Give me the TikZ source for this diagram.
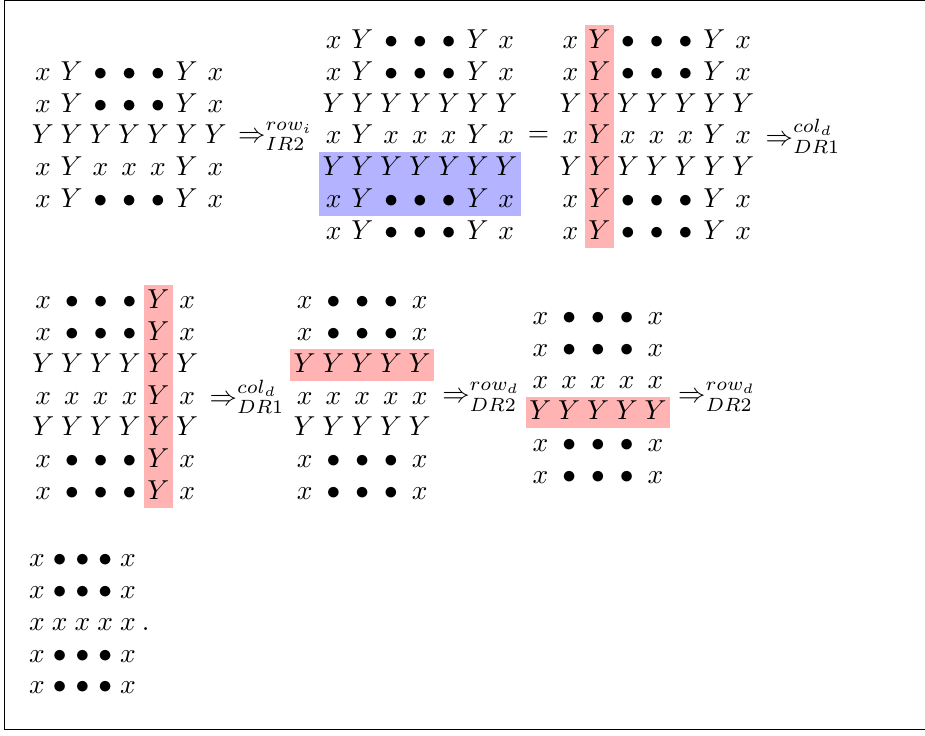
\documentclass[tikz,border=0pt]{standalone}
\usepackage{amsmath,amssymb}
\usepackage{xcolor}
\usepackage{tikz}
\usetikzlibrary{matrix, positioning, calc}
\definecolor{hlred}{RGB}{255,179,179}
\definecolor{hlblue}{RGB}{179,179,255}

\tikzset{
  cell/.style={minimum width=10.5pt, minimum height=11.6pt, inner sep=0pt,
               text height=1.5ex, text depth=.25ex},
  narrowcell/.style={cell, minimum width=8.3pt},
  grid/.style={matrix of math nodes, inner sep=0pt, row sep=0pt,
               column sep=0pt, nodes={cell}},
  redcell/.style={fill=hlred},
  bluecell/.style={fill=hlblue},
  arrowlbl/.style={inner sep=0pt},
}

\begin{document}
\begin{tikzpicture}[x=0.365pt, y=-0.365pt]
\useasboundingbox (0,0) rectangle (925,735);
\clip (0,0) rectangle (925,735);
\draw (4.7,0.6) rectangle (940,729.4);

% first line
\matrix (mA) [grid] at (129.2,136.4) {
x & Y & \bullet & \bullet & \bullet & Y & x \\
x & Y & \bullet & \bullet & \bullet & Y & x \\
Y & Y & Y & Y & Y & Y & Y \\
x & Y & x & x & x & Y & x \\
x & Y & \bullet & \bullet & \bullet & Y & x \\
};
\node[arrowlbl, right=2.6pt of mA] (a1) {$\Rightarrow^{row_i}_{IR2}$};

\matrix (mB) [grid] at (420,136.4) {
x & Y & \bullet & \bullet & \bullet & Y & x \\
x & Y & \bullet & \bullet & \bullet & Y & x \\
Y & Y & Y & Y & Y & Y & Y \\
x & Y & x & x & x & Y & x \\
|[bluecell]| Y & |[bluecell]| Y & |[bluecell]| Y & |[bluecell]| Y
  & |[bluecell]| Y & |[bluecell]| Y & |[bluecell]| Y \\
|[bluecell]| x & |[bluecell]| Y & |[bluecell]| \bullet & |[bluecell]| \bullet
  & |[bluecell]| \bullet & |[bluecell]| Y & |[bluecell]| x \\
x & Y & \bullet & \bullet & \bullet & Y & x \\
};

\matrix (mC) [grid] at (656.8,136.4) {
x & |[redcell]| Y & \bullet & \bullet & \bullet & Y & x \\
x & |[redcell]| Y & \bullet & \bullet & \bullet & Y & x \\
Y & |[redcell]| Y & Y & Y & Y & Y & Y \\
x & |[redcell]| Y & x & x & x & Y & x \\
Y & |[redcell]| Y & Y & Y & Y & Y & Y \\
x & |[redcell]| Y & \bullet & \bullet & \bullet & Y & x \\
x & |[redcell]| Y & \bullet & \bullet & \bullet & Y & x \\
};
\node (eq) at ($(mB.east)!0.5!(mC.west)$) {$=$};
\node[arrowlbl, right=2.6pt of mC] (a2) {$\Rightarrow^{col_d}_{DR1}$};

% second line
\matrix (mD) [grid] at (115.2,396.7) {
x & \bullet & \bullet & \bullet & |[redcell]| Y & x \\
x & \bullet & \bullet & \bullet & |[redcell]| Y & x \\
Y & Y & Y & Y & |[redcell]| Y & Y \\
x & x & x & x & |[redcell]| Y & x \\
Y & Y & Y & Y & |[redcell]| Y & Y \\
x & \bullet & \bullet & \bullet & |[redcell]| Y & x \\
x & \bullet & \bullet & \bullet & |[redcell]| Y & x \\
};
\node[arrowlbl, right=2.6pt of mD] (a3) {$\Rightarrow^{col_d}_{DR1}$};

\matrix (mE) [grid] at (362.2,396.7) {
x & \bullet & \bullet & \bullet & x \\
x & \bullet & \bullet & \bullet & x \\
|[redcell]| Y & |[redcell]| Y & |[redcell]| Y & |[redcell]| Y & |[redcell]| Y \\
x & x & x & x & x \\
Y & Y & Y & Y & Y \\
x & \bullet & \bullet & \bullet & x \\
x & \bullet & \bullet & \bullet & x \\
};
\node[arrowlbl, right=2.6pt of mE] (a4) {$\Rightarrow^{row_d}_{DR2}$};

\matrix (mF) [grid] at (598,396.7) {
x & \bullet & \bullet & \bullet & x \\
x & \bullet & \bullet & \bullet & x \\
x & x & x & x & x \\
|[redcell]| Y & |[redcell]| Y & |[redcell]| Y & |[redcell]| Y & |[redcell]| Y \\
x & \bullet & \bullet & \bullet & x \\
x & \bullet & \bullet & \bullet & x \\
};
\node[arrowlbl, right=2.6pt of mF] (a5) {$\Rightarrow^{row_d}_{DR2}$};

% third line
\matrix (mG) [grid, nodes={narrowcell}] at (82.5,623) {
x & \bullet & \bullet & \bullet & x \\
x & \bullet & \bullet & \bullet & x \\
x & x & x & x & x \\
x & \bullet & \bullet & \bullet & x \\
x & \bullet & \bullet & \bullet & x \\
};
\node[anchor=base west, inner sep=0pt] (stop) at ([xshift=0.5pt]mG-3-5.base east) {$.$};
\end{tikzpicture}
\end{document}
